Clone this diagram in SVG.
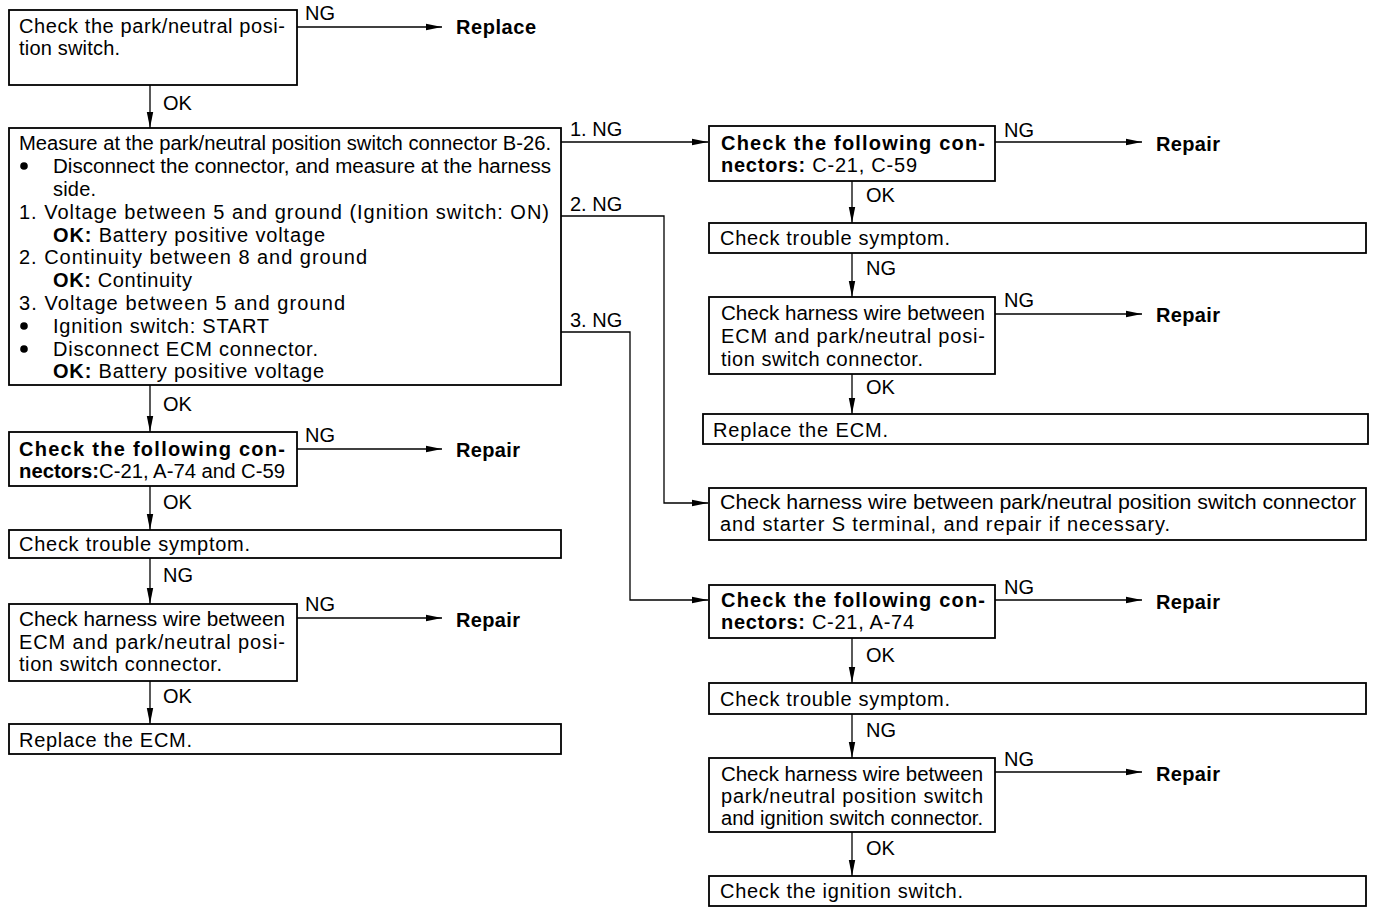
<svg xmlns="http://www.w3.org/2000/svg" width="1376" height="914" viewBox="0 0 1376 914">
<style>
text{font-family:"Liberation Sans",Arial,sans-serif;font-size:20px;fill:#000}
.b{font-weight:bold}
.box{fill:#fff;stroke:#000;stroke-width:1.8}
.ln{fill:none;stroke:#000;stroke-width:1.3}
</style>
<defs>
<marker id="ah" markerWidth="16" markerHeight="8" refX="16" refY="4" orient="auto" markerUnits="userSpaceOnUse">
<path d="M0,0.8 L16,4 L0,7.2 Z" fill="#000"/>
</marker>
</defs>
<rect width="1376" height="914" fill="#fff"/>
<g id="connectors">
<line class="ln" x1="297" y1="27" x2="442" y2="27" marker-end="url(#ah)"/>
<line class="ln" x1="150" y1="85" x2="150" y2="128" marker-end="url(#ah)"/>
<line class="ln" x1="561" y1="142" x2="708" y2="142" marker-end="url(#ah)"/>
<polyline class="ln" points="561,216 664,216 664,503 708,503" marker-end="url(#ah)"/>
<polyline class="ln" points="561,332 630,332 630,600 708,600" marker-end="url(#ah)"/>
<line class="ln" x1="150" y1="385" x2="150" y2="432" marker-end="url(#ah)"/>
<line class="ln" x1="297" y1="449" x2="442" y2="449" marker-end="url(#ah)"/>
<line class="ln" x1="150" y1="486" x2="150" y2="530" marker-end="url(#ah)"/>
<line class="ln" x1="150" y1="558" x2="150" y2="604" marker-end="url(#ah)"/>
<line class="ln" x1="297" y1="618" x2="442" y2="618" marker-end="url(#ah)"/>
<line class="ln" x1="150" y1="681" x2="150" y2="724" marker-end="url(#ah)"/>
<line class="ln" x1="995" y1="142" x2="1142" y2="142" marker-end="url(#ah)"/>
<line class="ln" x1="852" y1="181" x2="852" y2="223" marker-end="url(#ah)"/>
<line class="ln" x1="852" y1="253" x2="852" y2="297" marker-end="url(#ah)"/>
<line class="ln" x1="995" y1="314" x2="1142" y2="314" marker-end="url(#ah)"/>
<line class="ln" x1="852" y1="374" x2="852" y2="414" marker-end="url(#ah)"/>
<line class="ln" x1="995" y1="600" x2="1142" y2="600" marker-end="url(#ah)"/>
<line class="ln" x1="852" y1="638" x2="852" y2="683" marker-end="url(#ah)"/>
<line class="ln" x1="852" y1="714" x2="852" y2="758" marker-end="url(#ah)"/>
<line class="ln" x1="995" y1="772" x2="1142" y2="772" marker-end="url(#ah)"/>
<line class="ln" x1="852" y1="832" x2="852" y2="876" marker-end="url(#ah)"/>
<text x="305" y="20">NG</text>
<text x="163" y="110">OK</text>
<text x="570" y="136">1. NG</text>
<text x="570" y="211">2. NG</text>
<text x="570" y="327">3. NG</text>
<text x="163" y="411">OK</text>
<text x="305" y="442">NG</text>
<text x="163" y="509">OK</text>
<text x="163" y="582">NG</text>
<text x="305" y="611">NG</text>
<text x="163" y="703">OK</text>
<text x="1004" y="137">NG</text>
<text x="866" y="202">OK</text>
<text x="866" y="275">NG</text>
<text x="1004" y="307">NG</text>
<text x="866" y="394">OK</text>
<text x="1004" y="594">NG</text>
<text x="866" y="662">OK</text>
<text x="866" y="737">NG</text>
<text x="1004" y="766">NG</text>
<text x="866" y="855">OK</text>
</g>
<g id="replace1"><text class="b" x="456" y="34" textLength="80" lengthAdjust="spacing">Replace</text></g>
<g id="repair1"><text class="b" x="456" y="457" textLength="64" lengthAdjust="spacing">Repair</text></g>
<g id="repair2"><text class="b" x="456" y="627" textLength="64" lengthAdjust="spacing">Repair</text></g>
<g id="repair3"><text class="b" x="1156" y="151" textLength="64" lengthAdjust="spacing">Repair</text></g>
<g id="repair4"><text class="b" x="1156" y="322" textLength="64" lengthAdjust="spacing">Repair</text></g>
<g id="repair5"><text class="b" x="1156" y="609" textLength="64" lengthAdjust="spacing">Repair</text></g>
<g id="repair6"><text class="b" x="1156" y="781" textLength="64" lengthAdjust="spacing">Repair</text></g>

<g id="n1">
<rect class="box" x="9" y="10" width="288" height="75"/>
<text x="19" y="33" textLength="266" lengthAdjust="spacing">Check the park/neutral posi-</text>
<text x="19" y="55" textLength="101" lengthAdjust="spacing">tion switch.</text>
</g>
<g id="n2">
<rect class="box" x="9" y="128" width="552" height="257"/>
<text x="19" y="150" textLength="532" lengthAdjust="spacingAndGlyphs">Measure at the park/neutral position switch connector B-26.</text>
<circle cx="24" cy="166" r="3.8"/>
<text x="53" y="173" textLength="498" lengthAdjust="spacingAndGlyphs">Disconnect the connector, and measure at the harness</text>
<text x="53" y="196" textLength="43" lengthAdjust="spacing">side.</text>
<text x="19" y="219" textLength="530" lengthAdjust="spacing">1. Voltage between 5 and ground (Ignition switch: ON)</text>
<text x="53" y="242" textLength="272" lengthAdjust="spacing"><tspan class="b">OK:</tspan> Battery positive voltage</text>
<text x="19" y="264" textLength="348" lengthAdjust="spacing">2. Continuity between 8 and ground</text>
<text x="53" y="287" textLength="139" lengthAdjust="spacing"><tspan class="b">OK:</tspan> Continuity</text>
<text x="19" y="310" textLength="326" lengthAdjust="spacing">3. Voltage between 5 and ground</text>
<circle cx="24" cy="326" r="3.8"/>
<text x="53" y="333" textLength="216" lengthAdjust="spacing">Ignition switch: START</text>
<circle cx="24" cy="349" r="3.8"/>
<text x="53" y="356" textLength="265" lengthAdjust="spacing">Disconnect ECM connector.</text>
<text x="53" y="378" textLength="271" lengthAdjust="spacing"><tspan class="b">OK:</tspan> Battery positive voltage</text>
</g>
<g id="n3">
<rect class="box" x="9" y="432" width="288" height="54"/>
<text class="b" x="19" y="456" textLength="266" lengthAdjust="spacing">Check the following con-</text>
<text x="19" y="478" textLength="266" lengthAdjust="spacingAndGlyphs"><tspan class="b">nectors:</tspan>C-21, A-74 and C-59</text>
</g>
<g id="n4">
<rect class="box" x="9" y="530" width="552" height="28"/>
<text x="19" y="551" textLength="231" lengthAdjust="spacing">Check trouble symptom.</text>
</g>
<g id="n5">
<rect class="box" x="9" y="604" width="288" height="77"/>
<text x="19" y="626" textLength="266" lengthAdjust="spacingAndGlyphs">Check harness wire between</text>
<text x="19" y="649" textLength="266" lengthAdjust="spacing">ECM and park/neutral posi-</text>
<text x="19" y="671" textLength="203" lengthAdjust="spacing">tion switch connector.</text>
</g>
<g id="n6">
<rect class="box" x="9" y="724" width="552" height="30"/>
<text x="19" y="747" textLength="173" lengthAdjust="spacing">Replace the ECM.</text>
</g>
<g id="r1">
<rect class="box" x="709" y="126" width="286" height="55"/>
<text class="b" x="721" y="150" textLength="264" lengthAdjust="spacing">Check the following con-</text>
<text x="721" y="172" textLength="196" lengthAdjust="spacing"><tspan class="b">nectors:</tspan> C-21, C-59</text>
</g>
<g id="r2">
<rect class="box" x="709" y="223" width="657" height="30"/>
<text x="720" y="245" textLength="230" lengthAdjust="spacing">Check trouble symptom.</text>
</g>
<g id="r3">
<rect class="box" x="709" y="297" width="286" height="77"/>
<text x="721" y="320" textLength="264" lengthAdjust="spacingAndGlyphs">Check harness wire between</text>
<text x="721" y="343" textLength="264" lengthAdjust="spacing">ECM and park/neutral posi-</text>
<text x="721" y="366" textLength="202" lengthAdjust="spacing">tion switch connector.</text>
</g>
<g id="r4">
<rect class="box" x="703" y="414" width="665" height="30"/>
<text x="713" y="437" textLength="175" lengthAdjust="spacing">Replace the ECM.</text>
</g>
<g id="r5">
<rect class="box" x="709" y="488" width="657" height="52"/>
<text x="720" y="509" textLength="636" lengthAdjust="spacingAndGlyphs">Check harness wire between park/neutral position switch connector</text>
<text x="720" y="531" textLength="450" lengthAdjust="spacing">and starter S terminal, and repair if necessary.</text>
</g>
<g id="r6">
<rect class="box" x="709" y="585" width="286" height="53"/>
<text class="b" x="721" y="607" textLength="264" lengthAdjust="spacing">Check the following con-</text>
<text x="721" y="629" textLength="193" lengthAdjust="spacing"><tspan class="b">nectors:</tspan> C-21, A-74</text>
</g>
<g id="r7">
<rect class="box" x="709" y="683" width="657" height="31"/>
<text x="720" y="706" textLength="230" lengthAdjust="spacing">Check trouble symptom.</text>
</g>
<g id="r8">
<rect class="box" x="709" y="758" width="286" height="74"/>
<text x="721" y="781" textLength="262" lengthAdjust="spacingAndGlyphs">Check harness wire between</text>
<text x="721" y="803" textLength="262" lengthAdjust="spacing">park/neutral position switch</text>
<text x="721" y="825" textLength="262" lengthAdjust="spacingAndGlyphs">and ignition switch connector.</text>
</g>
<g id="r9">
<rect class="box" x="709" y="876" width="657" height="30"/>
<text x="720" y="898" textLength="243" lengthAdjust="spacing">Check the ignition switch.</text>
</g>
</svg>
